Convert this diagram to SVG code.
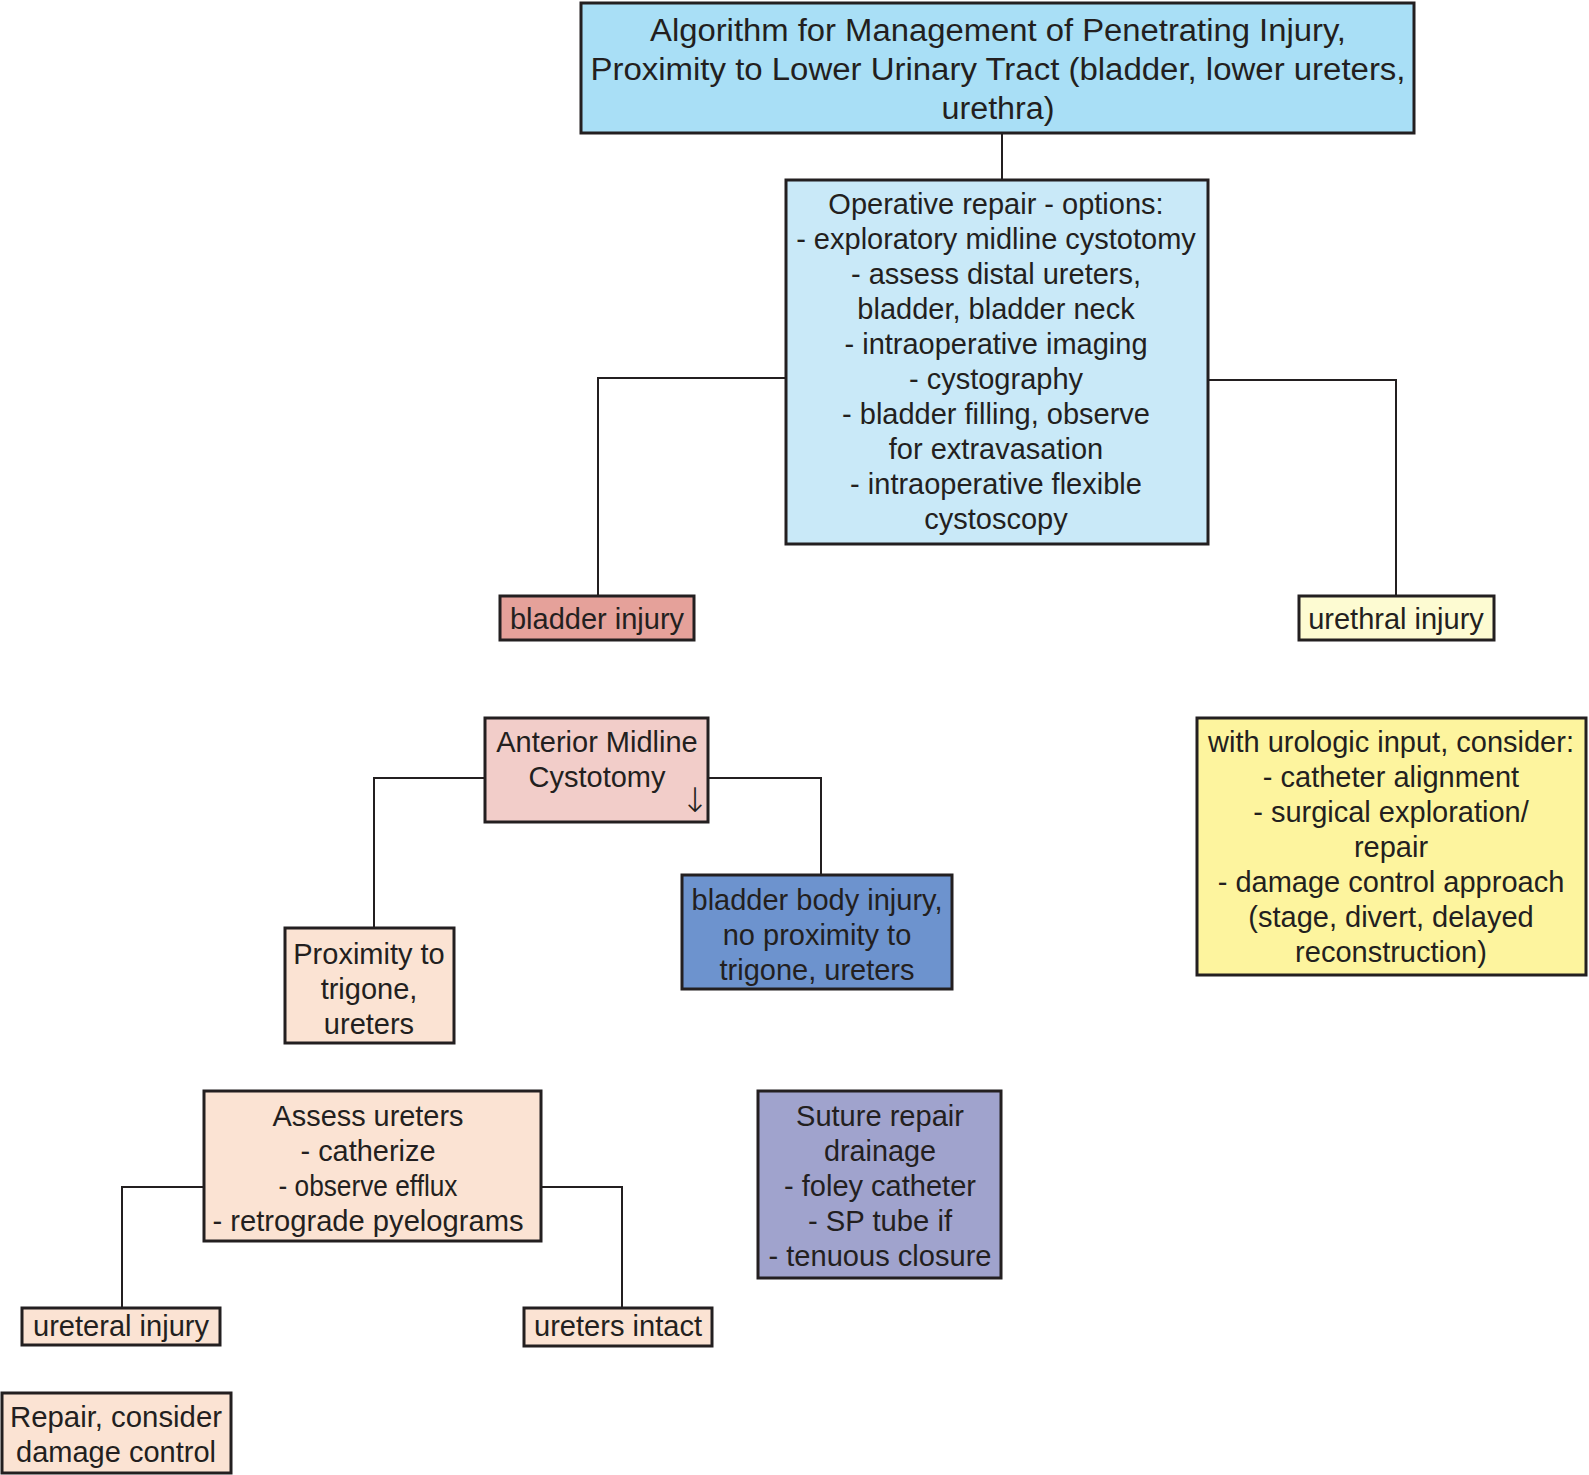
<svg xmlns="http://www.w3.org/2000/svg" width="1589" height="1475" viewBox="0 0 1589 1475">
<style>
.box{stroke:#231f20;stroke-width:3}
text{font-family:"Liberation Sans",Arial,sans-serif;font-size:29px;fill:#231f20;text-anchor:middle}
.t{font-size:31px}
.c{stroke:#231f20;stroke-width:2;fill:none}
.arr{font-family:"DejaVu Sans","Liberation Sans",sans-serif;font-size:34px;font-weight:200}
</style>
<rect width="1589" height="1475" fill="#ffffff"/>
<g id="connectors">
<path class="c" d="M1002,133 V180"/>
<path class="c" d="M786,378 H598 V596"/>
<path class="c" d="M1208,380 H1396 V596"/>
<path class="c" d="M485,778 H374 V928"/>
<path class="c" d="M708,778 H821 V875"/>
<path class="c" d="M204,1187 H122 V1308"/>
<path class="c" d="M541,1187 H622 V1308"/>
</g>
<g id="title">
<rect class="box" x="581" y="3" width="833" height="130" fill="#a9dff6"/>
<text class="t" x="998" y="41" textLength="696" lengthAdjust="spacingAndGlyphs">Algorithm for Management of Penetrating Injury,</text>
<text class="t" x="998" y="80" textLength="815" lengthAdjust="spacingAndGlyphs">Proximity to Lower Urinary Tract (bladder, lower ureters,</text>
<text class="t" x="998" y="119" textLength="113" lengthAdjust="spacingAndGlyphs">urethra)</text>
</g>
<g id="operative">
<rect class="box" x="786" y="180" width="422" height="364" fill="#c9e9f8"/>
<text x="996" y="214">Operative repair - options:</text>
<text x="996" y="249">- exploratory midline cystotomy</text>
<text x="996" y="284">- assess distal ureters,</text>
<text x="996" y="319">bladder, bladder neck</text>
<text x="996" y="354">- intraoperative imaging</text>
<text x="996" y="389">- cystography</text>
<text x="996" y="424">- bladder filling, observe</text>
<text x="996" y="459">for extravasation</text>
<text x="996" y="494">- intraoperative flexible</text>
<text x="996" y="529">cystoscopy</text>
</g>
<g id="bladder-injury">
<rect class="box" x="500" y="596" width="194" height="44" fill="#e5a19a"/>
<text x="597" y="629">bladder injury</text>
</g>
<g id="urethral-injury">
<rect class="box" x="1299" y="596" width="195" height="44" fill="#fdfbd2"/>
<text x="1396" y="629">urethral injury</text>
</g>
<g id="amc">
<rect class="box" x="485" y="718" width="223" height="104" fill="#f2cdc9"/>
<text x="597" y="752">Anterior Midline</text>
<text x="597" y="787">Cystotomy</text>
<text class="arr" x="695" y="812">↓</text>
</g>
<g id="proximity">
<rect class="box" x="285" y="928" width="169" height="115" fill="#fbe3d3"/>
<text x="369" y="964">Proximity to</text>
<text x="369" y="999">trigone,</text>
<text x="369" y="1034">ureters</text>
</g>
<g id="bladder-body">
<rect class="box" x="682" y="875" width="270" height="114" fill="#6d93ce"/>
<text x="817" y="910">bladder body injury,</text>
<text x="817" y="945">no proximity to</text>
<text x="817" y="980">trigone, ureters</text>
</g>
<g id="urologic">
<rect class="box" x="1197" y="718" width="389" height="257" fill="#fdf49e"/>
<text x="1391" y="752">with urologic input, consider:</text>
<text x="1391" y="787">- catheter alignment</text>
<text x="1391" y="822">- surgical exploration/</text>
<text x="1391" y="857">repair</text>
<text x="1391" y="892">- damage control approach</text>
<text x="1391" y="927">(stage, divert, delayed</text>
<text x="1391" y="962">reconstruction)</text>
</g>
<g id="assess">
<rect class="box" x="204" y="1091" width="337" height="150" fill="#fbe3d3"/>
<text x="368" y="1126" textLength="191" lengthAdjust="spacingAndGlyphs">Assess ureters</text>
<text x="368" y="1161" textLength="135" lengthAdjust="spacingAndGlyphs">- catherize</text>
<text x="368" y="1196" textLength="179" lengthAdjust="spacingAndGlyphs">- observe efflux</text>
<text x="368" y="1231" textLength="311" lengthAdjust="spacingAndGlyphs">- retrograde pyelograms</text>
</g>
<g id="suture">
<rect class="box" x="758" y="1091" width="243" height="187" fill="#a0a3cd"/>
<text x="880" y="1126" textLength="168" lengthAdjust="spacingAndGlyphs">Suture repair</text>
<text x="880" y="1161" textLength="112" lengthAdjust="spacingAndGlyphs">drainage</text>
<text x="880" y="1196" textLength="192" lengthAdjust="spacingAndGlyphs">- foley catheter</text>
<text x="880" y="1231" textLength="144" lengthAdjust="spacingAndGlyphs">- SP tube if</text>
<text x="880" y="1266" textLength="223" lengthAdjust="spacingAndGlyphs">- tenuous closure</text>
</g>
<g id="ureteral-injury">
<rect class="box" x="22" y="1308" width="198" height="37" fill="#fbe3d3"/>
<text x="121" y="1336" textLength="176" lengthAdjust="spacingAndGlyphs">ureteral injury</text>
</g>
<g id="ureters-intact">
<rect class="box" x="524" y="1308" width="188" height="38" fill="#fbe3d3"/>
<text x="618" y="1336" textLength="168" lengthAdjust="spacingAndGlyphs">ureters intact</text>
</g>
<g id="repair">
<rect class="box" x="2" y="1393" width="229" height="80" fill="#fbe3d3"/>
<text x="116" y="1427" textLength="212" lengthAdjust="spacingAndGlyphs">Repair, consider</text>
<text x="116" y="1462" textLength="200" lengthAdjust="spacingAndGlyphs">damage control</text>
</g>
</svg>
